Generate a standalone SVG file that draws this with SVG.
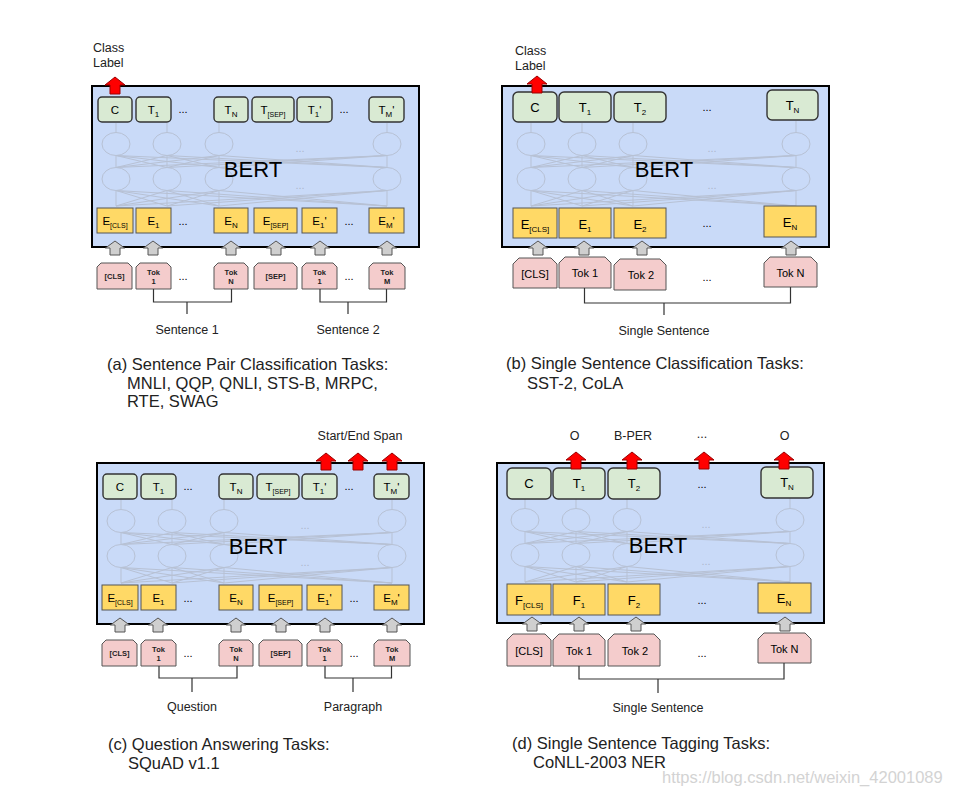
<svg xmlns="http://www.w3.org/2000/svg" width="966" height="797" viewBox="0 0 966 797">
<style>
text{font-family:"Liberation Sans",Arial,sans-serif;fill:#000}
.box{fill:#c9daf8;stroke:#000;stroke-width:2}
.net{fill:none;stroke:#b7c1d4;stroke-width:1}
.fdots{stroke:none;fill:#adb8cc;font-size:11px;text-anchor:middle}
.t{fill:#d9ead3;stroke:#333;stroke-width:1.4}
.e{fill:#ffd966;stroke:#555;stroke-width:1}
.tok{fill:#f4cccc;stroke:#555;stroke-width:1}
.ga{fill:#cfcfcf;stroke:#555;stroke-width:1}
.ra{fill:#ff0000;stroke:#9a0000;stroke-width:1}
.br{fill:none;stroke:#333;stroke-width:1.2}
.bert{font-size:22px;text-anchor:middle}
.tl{font-size:11.5px;text-anchor:middle}
.tlb{font-size:13px;text-anchor:middle}
.sub{font-size:8px}
.ssub{font-size:7px}
.tk{font-size:7.5px;font-weight:bold;text-anchor:middle;fill:#222}
.tkb{font-size:11px;text-anchor:middle}
.dots{font-size:11px;text-anchor:middle}
.lab{font-size:12.5px;fill:#222}
.labm{font-size:12.5px;fill:#222;text-anchor:middle}
.cap{font-size:16.5px;fill:#222}
.wm{font-size:16.5px;fill:#d3d3d3}
</style>
<defs>
<path id="arw" d="M0,0L9.5,7L5,7L5,14L-5,14L-5,7L-9.5,7Z"/>
<path id="rarw" d="M0,0L10,8L5,8L5,17L-5,17L-5,8L-10,8Z"/>
<g id="netA" class="net">
<ellipse cx="116" cy="144" rx="14" ry="11.5"/><ellipse cx="167" cy="144" rx="14" ry="11.5"/><ellipse cx="219" cy="144" rx="14" ry="11.5"/><ellipse cx="387" cy="144" rx="14" ry="11.5"/>
<ellipse cx="116" cy="179" rx="14" ry="11.5"/><ellipse cx="167" cy="179" rx="14" ry="11.5"/><ellipse cx="219" cy="179" rx="14" ry="11.5"/><ellipse cx="387" cy="179" rx="14" ry="11.5"/>
<path d="M116 132.5V123M167 132.5V123M219 132.5V123M387 132.5V123M116 167.5L116 155.5M116 167.5L167 155.5M116 167.5L219 155.5M116 167.5L387 155.5M167 167.5L116 155.5M167 167.5L167 155.5M167 167.5L219 155.5M167 167.5L387 155.5M219 167.5L116 155.5M219 167.5L167 155.5M219 167.5L219 155.5M219 167.5L387 155.5M387 167.5L116 155.5M387 167.5L167 155.5M387 167.5L219 155.5M387 167.5L387 155.5M116 206L116 190.5M116 206L167 190.5M116 206L219 190.5M116 206L387 190.5M167 206L116 190.5M167 206L167 190.5M167 206L219 190.5M167 206L387 190.5M219 206L116 190.5M219 206L167 190.5M219 206L219 190.5M219 206L387 190.5M387 206L116 190.5M387 206L167 190.5M387 206L219 190.5M387 206L387 190.5"/>
<text class="fdots" x="300" y="152">...</text><text class="fdots" x="300" y="189">...</text>
</g>
<g id="netB" class="net">
<ellipse cx="531" cy="144" rx="14" ry="11.5"/><ellipse cx="582" cy="144" rx="14" ry="11.5"/><ellipse cx="633" cy="144" rx="14" ry="11.5"/><ellipse cx="796" cy="144" rx="14" ry="11.5"/>
<ellipse cx="531" cy="179" rx="14" ry="11.5"/><ellipse cx="582" cy="179" rx="14" ry="11.5"/><ellipse cx="633" cy="179" rx="14" ry="11.5"/><ellipse cx="796" cy="179" rx="14" ry="11.5"/>
<path d="M531 132.5V123M582 132.5V123M633 132.5V123M796 132.5V121M531 167.5L531 155.5M531 167.5L582 155.5M531 167.5L633 155.5M531 167.5L796 155.5M582 167.5L531 155.5M582 167.5L582 155.5M582 167.5L633 155.5M582 167.5L796 155.5M633 167.5L531 155.5M633 167.5L582 155.5M633 167.5L633 155.5M633 167.5L796 155.5M796 167.5L531 155.5M796 167.5L582 155.5M796 167.5L633 155.5M796 167.5L796 155.5M531 206L531 190.5M531 206L582 190.5M531 206L633 190.5M531 206L796 190.5M582 206L531 190.5M582 206L582 190.5M582 206L633 190.5M582 206L796 190.5M633 206L531 190.5M633 206L582 190.5M633 206L633 190.5M633 206L796 190.5M796 206L531 190.5M796 206L582 190.5M796 206L633 190.5M796 206L796 190.5"/>
<text class="fdots" x="712" y="152">...</text><text class="fdots" x="712" y="189">...</text>
</g>
</defs>
<rect width="966" height="797" fill="#fff"/>

<!-- Panel (a) -->
<g id="panel-a">
<rect class="box" x="92" y="86" width="327" height="161"/>
<use href="#netA"/>
<text class="bert" x="253" y="177">BERT</text>
<g id="a-C"><rect class="t" x="98" y="97" width="34" height="25" rx="4"/><text class="tl" x="115" y="113.5">C</text></g>
<g id="a-T1"><rect class="t" x="136" y="97" width="35" height="25" rx="4"/><text class="tl" x="153.5" y="113.5">T<tspan class="sub" dy="3">1</tspan></text></g>
<g id="a-TN"><rect class="t" x="214" y="97" width="34" height="25" rx="4"/><text class="tl" x="231" y="113.5">T<tspan class="sub" dy="3">N</tspan></text></g>
<g id="a-Tsep"><rect class="t" x="252" y="97" width="42" height="25" rx="4"/><text class="tl" x="273" y="113.5">T<tspan class="ssub" dy="3">[SEP]</tspan></text></g>
<g id="a-T1p"><rect class="t" x="297" y="97" width="35" height="25" rx="4"/><text class="tl" x="314.5" y="113.5">T<tspan class="sub" dy="3">1</tspan><tspan dy="-3">'</tspan></text></g>
<g id="a-TMp"><rect class="t" x="369" y="97" width="35" height="25" rx="4"/><text class="tl" x="386.5" y="113.5">T<tspan class="sub" dy="3">M</tspan><tspan dy="-3">'</tspan></text></g>
<text class="dots" x="183" y="113">...</text><text class="dots" x="344" y="113">...</text>
<g id="a-Ecls"><rect class="e" x="97" y="208" width="36" height="25"/><text class="tl" x="115" y="225">E<tspan class="ssub" dy="3">[CLS]</tspan></text></g>
<g id="a-E1"><rect class="e" x="136" y="208" width="35" height="25"/><text class="tl" x="153.5" y="225">E<tspan class="sub" dy="3">1</tspan></text></g>
<g id="a-EN"><rect class="e" x="214" y="208" width="34" height="25"/><text class="tl" x="231" y="225">E<tspan class="sub" dy="3">N</tspan></text></g>
<g id="a-Esep"><rect class="e" x="254" y="208" width="43" height="25"/><text class="tl" x="275.5" y="225">E<tspan class="ssub" dy="3">[SEP]</tspan></text></g>
<g id="a-E1p"><rect class="e" x="302" y="208" width="35" height="25"/><text class="tl" x="319.5" y="225">E<tspan class="sub" dy="3">1</tspan><tspan dy="-3">'</tspan></text></g>
<g id="a-EMp"><rect class="e" x="369" y="208" width="35" height="25"/><text class="tl" x="386.5" y="225">E<tspan class="sub" dy="3">M</tspan><tspan dy="-3">'</tspan></text></g>
<text class="dots" x="183" y="225">...</text><text class="dots" x="349" y="225">...</text>
<g id="a-tcls"><path class="tok" d="M97,267L101,263L128,263L132,267L132,289L97,289Z"/><text class="tk" x="114.5" y="279" font-size="7">[CLS]</text></g>
<g id="a-tok1"><path class="tok" d="M136,267L140,263L167,263L171,267L171,289L136,289Z"/><text class="tk" x="153.5" y="275">Tok</text><text class="tk" x="153.5" y="284">1</text></g>
<g id="a-tokN"><path class="tok" d="M214,267L218,263L244,263L248,267L248,289L214,289Z"/><text class="tk" x="231" y="275">Tok</text><text class="tk" x="231" y="284">N</text></g>
<g id="a-tsep"><path class="tok" d="M254,267L258,263L293,263L297,267L297,289L254,289Z"/><text class="tk" x="275.5" y="279" font-size="7">[SEP]</text></g>
<g id="a-tok1p"><path class="tok" d="M302,267L306,263L333,263L337,267L337,289L302,289Z"/><text class="tk" x="319.5" y="275">Tok</text><text class="tk" x="319.5" y="284">1</text></g>
<g id="a-tokM"><path class="tok" d="M369,267L373,263L401,263L405,267L405,289L369,289Z"/><text class="tk" x="387" y="275">Tok</text><text class="tk" x="387" y="284">M</text></g>
<text class="dots" x="183" y="280">...</text><text class="dots" x="349" y="280">...</text>
<g id="a-connectors">
<use href="#arw" class="ga" x="115" y="241"/><use href="#arw" class="ga" x="153" y="241"/><use href="#arw" class="ga" x="231" y="241"/><use href="#arw" class="ga" x="276" y="241"/><use href="#arw" class="ga" x="320" y="241"/><use href="#arw" class="ga" x="387" y="241"/>
<use href="#rarw" class="ra" x="115" y="77"/>
<path class="br" d="M153.5,289V302H231.5V289M187,302V314M320,289V302H386.5V289M348,302V314"/>
</g>
<text class="lab" x="93" y="52">Class</text><text class="lab" x="93" y="67">Label</text>
<text class="labm" x="187" y="334">Sentence 1</text><text class="labm" x="348" y="334">Sentence 2</text>
</g>

<!-- Panel (b) -->
<g id="panel-b">
<rect class="box" x="502" y="86" width="327" height="161"/>
<use href="#netB"/>
<text class="bert" x="664" y="177">BERT</text>
<g id="b-C"><rect class="t" x="513" y="92" width="44" height="30" rx="5"/><text class="tlb" x="535" y="111.5">C</text></g>
<g id="b-T1"><rect class="t" x="559" y="92" width="52" height="30" rx="5"/><text class="tlb" x="585" y="111.5">T<tspan class="sub" dy="3">1</tspan></text></g>
<g id="b-T2"><rect class="t" x="614" y="92" width="52" height="30" rx="5"/><text class="tlb" x="640" y="111.5">T<tspan class="sub" dy="3">2</tspan></text></g>
<g id="b-TN"><rect class="t" x="767" y="90" width="51" height="30" rx="5"/><text class="tlb" x="792.5" y="109.5">T<tspan class="sub" dy="3">N</tspan></text></g>
<text class="dots" x="707" y="111">...</text>
<g id="b-Ecls"><rect class="e" x="513" y="208" width="44" height="30"/><text class="tlb" x="535" y="228.5">E<tspan class="sub" dy="3">[CLS]</tspan></text></g>
<g id="b-E1"><rect class="e" x="559" y="208" width="52" height="30"/><text class="tlb" x="585" y="228.5">E<tspan class="sub" dy="3">1</tspan></text></g>
<g id="b-E2"><rect class="e" x="614" y="208" width="52" height="30"/><text class="tlb" x="640" y="228.5">E<tspan class="sub" dy="3">2</tspan></text></g>
<g id="b-EN"><rect class="e" x="764" y="206" width="52" height="31"/><text class="tlb" x="790" y="226.5">E<tspan class="sub" dy="3">N</tspan></text></g>
<text class="dots" x="707" y="227">...</text>
<g id="b-tcls"><path class="tok" d="M513,264L519,258L551,258L557,264L557,288L513,288Z"/><text class="tkb" x="535" y="278" font-size="9.5">[CLS]</text></g>
<g id="b-tok1"><path class="tok" d="M559,263L565,257L605,257L611,263L611,288L559,288Z"/><text class="tkb" x="585" y="277">Tok 1</text></g>
<g id="b-tok2"><path class="tok" d="M614,265L620,259L660,259L666,265L666,290L614,290Z"/><text class="tkb" x="641" y="279">Tok 2</text></g>
<g id="b-tokN"><path class="tok" d="M764,263L770,257L811,257L817,263L817,287L764,287Z"/><text class="tkb" x="790.5" y="277">Tok N</text></g>
<text class="dots" x="707" y="281">...</text>
<g id="b-connectors">
<use href="#arw" class="ga" x="538" y="241"/><use href="#arw" class="ga" x="584" y="241"/><use href="#arw" class="ga" x="642" y="241"/><use href="#arw" class="ga" x="791" y="241"/>
<use href="#rarw" class="ra" x="537" y="76"/>
<path class="br" d="M584.5,288V303H790.5V287M664,303V315"/>
</g>
<text class="lab" x="515" y="55">Class</text><text class="lab" x="515" y="70">Label</text>
<text class="labm" x="664" y="335">Single Sentence</text>
</g>

<!-- Panel (c) -->
<g id="panel-c" transform="translate(5,377)">
<rect class="box" x="92" y="86" width="327" height="161"/>
<use href="#netA"/>
<text class="bert" x="253" y="177">BERT</text>
<g id="c-C"><rect class="t" x="98" y="97" width="34" height="25" rx="4"/><text class="tl" x="115" y="113.5">C</text></g>
<g id="c-T1"><rect class="t" x="136" y="97" width="35" height="25" rx="4"/><text class="tl" x="153.5" y="113.5">T<tspan class="sub" dy="3">1</tspan></text></g>
<g id="c-TN"><rect class="t" x="214" y="97" width="34" height="25" rx="4"/><text class="tl" x="231" y="113.5">T<tspan class="sub" dy="3">N</tspan></text></g>
<g id="c-Tsep"><rect class="t" x="252" y="97" width="42" height="25" rx="4"/><text class="tl" x="273" y="113.5">T<tspan class="ssub" dy="3">[SEP]</tspan></text></g>
<g id="c-T1p"><rect class="t" x="297" y="97" width="35" height="25" rx="4"/><text class="tl" x="314.5" y="113.5">T<tspan class="sub" dy="3">1</tspan><tspan dy="-3">'</tspan></text></g>
<g id="c-TMp"><rect class="t" x="369" y="97" width="35" height="25" rx="4"/><text class="tl" x="386.5" y="113.5">T<tspan class="sub" dy="3">M</tspan><tspan dy="-3">'</tspan></text></g>
<text class="dots" x="183" y="113">...</text><text class="dots" x="344" y="113">...</text>
<g id="c-Ecls"><rect class="e" x="97" y="208" width="36" height="25"/><text class="tl" x="115" y="225">E<tspan class="ssub" dy="3">[CLS]</tspan></text></g>
<g id="c-E1"><rect class="e" x="136" y="208" width="35" height="25"/><text class="tl" x="153.5" y="225">E<tspan class="sub" dy="3">1</tspan></text></g>
<g id="c-EN"><rect class="e" x="214" y="208" width="34" height="25"/><text class="tl" x="231" y="225">E<tspan class="sub" dy="3">N</tspan></text></g>
<g id="c-Esep"><rect class="e" x="254" y="208" width="43" height="25"/><text class="tl" x="275.5" y="225">E<tspan class="ssub" dy="3">[SEP]</tspan></text></g>
<g id="c-E1p"><rect class="e" x="302" y="208" width="35" height="25"/><text class="tl" x="319.5" y="225">E<tspan class="sub" dy="3">1</tspan><tspan dy="-3">'</tspan></text></g>
<g id="c-EMp"><rect class="e" x="369" y="208" width="35" height="25"/><text class="tl" x="386.5" y="225">E<tspan class="sub" dy="3">M</tspan><tspan dy="-3">'</tspan></text></g>
<text class="dots" x="183" y="225">...</text><text class="dots" x="349" y="225">...</text>
<g id="c-tcls"><path class="tok" d="M97,267L101,263L128,263L132,267L132,289L97,289Z"/><text class="tk" x="114.5" y="279" font-size="7">[CLS]</text></g>
<g id="c-tok1"><path class="tok" d="M136,267L140,263L167,263L171,267L171,289L136,289Z"/><text class="tk" x="153.5" y="275">Tok</text><text class="tk" x="153.5" y="284">1</text></g>
<g id="c-tokN"><path class="tok" d="M214,267L218,263L244,263L248,267L248,289L214,289Z"/><text class="tk" x="231" y="275">Tok</text><text class="tk" x="231" y="284">N</text></g>
<g id="c-tsep"><path class="tok" d="M254,267L258,263L293,263L297,267L297,289L254,289Z"/><text class="tk" x="275.5" y="279" font-size="7">[SEP]</text></g>
<g id="c-tok1p"><path class="tok" d="M302,267L306,263L333,263L337,267L337,289L302,289Z"/><text class="tk" x="319.5" y="275">Tok</text><text class="tk" x="319.5" y="284">1</text></g>
<g id="c-tokM"><path class="tok" d="M369,267L373,263L401,263L405,267L405,289L369,289Z"/><text class="tk" x="387" y="275">Tok</text><text class="tk" x="387" y="284">M</text></g>
<text class="dots" x="183" y="280">...</text><text class="dots" x="349" y="280">...</text>
<g id="c-connectors">
<use href="#arw" class="ga" x="115" y="241"/><use href="#arw" class="ga" x="153" y="241"/><use href="#arw" class="ga" x="231" y="241"/><use href="#arw" class="ga" x="276" y="241"/><use href="#arw" class="ga" x="320" y="241"/><use href="#arw" class="ga" x="387" y="241"/>
<use href="#rarw" class="ra" x="321" y="76"/><use href="#rarw" class="ra" x="353" y="76"/><use href="#rarw" class="ra" x="387" y="76"/>
<path class="br" d="M154,289V301H232V289M187,301V315M320,289V301H386.5V289M348,301V315"/>
</g>
<text class="labm" x="355" y="63">Start/End Span</text>
<text class="labm" x="187" y="334">Question</text><text class="labm" x="348" y="334">Paragraph</text>
</g>

<!-- Panel (d) -->
<g id="panel-d" transform="translate(-6,376)">
<rect class="box" x="503" y="87" width="327" height="160"/>
<use href="#netB"/>
<text class="bert" x="664" y="177">BERT</text>
<g id="d-C"><rect class="t" x="513" y="92" width="44" height="31" rx="5"/><text class="tlb" x="535" y="112">C</text></g>
<g id="d-T1"><rect class="t" x="559" y="92" width="52" height="31" rx="5"/><text class="tlb" x="585" y="112">T<tspan class="sub" dy="3">1</tspan></text></g>
<g id="d-T2"><rect class="t" x="614" y="92" width="52" height="31" rx="5"/><text class="tlb" x="640" y="112">T<tspan class="sub" dy="3">2</tspan></text></g>
<g id="d-TN"><rect class="t" x="767" y="91" width="52" height="31" rx="5"/><text class="tlb" x="793" y="111">T<tspan class="sub" dy="3">N</tspan></text></g>
<text class="dots" x="708" y="112">...</text>
<g id="d-Fcls"><rect class="e" x="513" y="208" width="44" height="31"/><text class="tlb" x="535" y="229">F<tspan class="sub" dy="3">[CLS]</tspan></text></g>
<g id="d-F1"><rect class="e" x="559" y="208" width="52" height="31"/><text class="tlb" x="585" y="229">F<tspan class="sub" dy="3">1</tspan></text></g>
<g id="d-F2"><rect class="e" x="614" y="208" width="52" height="31"/><text class="tlb" x="640" y="229">F<tspan class="sub" dy="3">2</tspan></text></g>
<g id="d-EN"><rect class="e" x="764" y="207" width="53" height="30"/><text class="tlb" x="790" y="227">E<tspan class="sub" dy="3">N</tspan></text></g>
<text class="dots" x="708" y="228">...</text>
<g id="d-tcls"><path class="tok" d="M513,264L519,258L551,258L557,264L557,290L513,290Z"/><text class="tkb" x="535" y="279" font-size="9.5">[CLS]</text></g>
<g id="d-tok1"><path class="tok" d="M559,264L565,258L605,258L611,264L611,290L559,290Z"/><text class="tkb" x="585" y="279">Tok 1</text></g>
<g id="d-tok2"><path class="tok" d="M614,264L620,258L660,258L666,264L666,290L614,290Z"/><text class="tkb" x="641" y="279">Tok 2</text></g>
<g id="d-tokN"><path class="tok" d="M764,263L770,257L811,257L817,263L817,287L764,287Z"/><text class="tkb" x="790.5" y="277">Tok N</text></g>
<text class="dots" x="708" y="281">...</text>
<g id="d-connectors">
<use href="#arw" class="ga" x="538" y="241"/><use href="#arw" class="ga" x="585" y="241"/><use href="#arw" class="ga" x="642" y="241"/><use href="#arw" class="ga" x="791" y="241"/>
<use href="#rarw" class="ra" x="582" y="76"/><use href="#rarw" class="ra" x="638" y="76"/><use href="#rarw" class="ra" x="710" y="76"/><use href="#rarw" class="ra" x="790" y="76"/>
<path class="br" d="M585,290V303H790V287M664,303V317"/>
</g>
<text class="labm" x="580.5" y="64">O</text><text class="labm" x="639" y="64">B-PER</text><text class="labm" x="708" y="62">...</text><text class="labm" x="790.5" y="64">O</text>
<text class="labm" x="664" y="336">Single Sentence</text>
</g>

<!-- Captions -->
<g id="captions">
<text class="cap" x="107" y="370">(a) Sentence Pair Classification Tasks:</text>
<text class="cap" x="127" y="388.5">MNLI, QQP, QNLI, STS-B, MRPC,</text>
<text class="cap" x="127" y="407">RTE, SWAG</text>
<text class="cap" x="506" y="369">(b) Single Sentence Classification Tasks:</text>
<text class="cap" x="527" y="388.5">SST-2, CoLA</text>
<text class="cap" x="108" y="750">(c) Question Answering Tasks:</text>
<text class="cap" x="128" y="769">SQuAD v1.1</text>
<text class="cap" x="512" y="749">(d) Single Sentence Tagging Tasks:</text>
<text class="cap" x="533" y="768">CoNLL-2003 NER</text>
<text class="wm" x="662" y="783">https://blog.csdn.net/weixin_42001089</text>
</g>
</svg>
